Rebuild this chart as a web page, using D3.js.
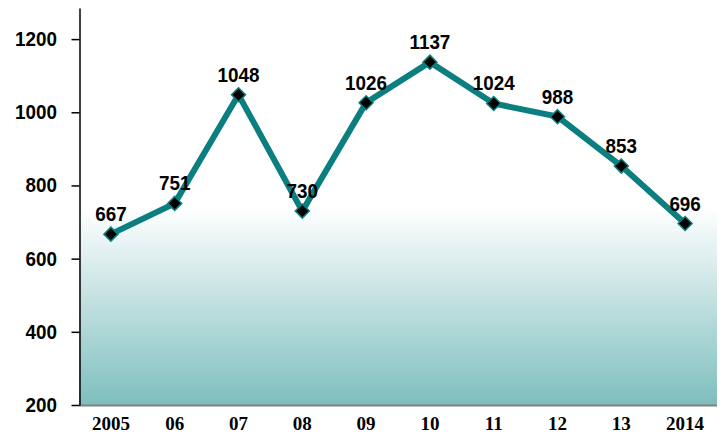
<!DOCTYPE html>
<html>
    <head>
        <title>Yearly line</title>
        <meta charset="UTF-8">
        <script type="text/javascript" src="https://cdn.jsdelivr.net/npm/d3@7"></script>
        <style type="text/css">
            body { margin: 0; background: #fff; }
        </style>
    </head>
    <body>
        <div id="chart"></div>
        <script type="text/javascript">
            var years = ["2005", "06", "07", "08", "09", "10", "11", "12", "13", "2014"];
            var values = [667, 751, 1048, 730, 1026, 1137, 1024, 988, 853, 696];
            var yTicks = [200, 400, 600, 800, 1000, 1200];

            var svgW = 727, svgH = 435;
            var plotL = 79, plotR = 717, plotT = 8, plotB = 405;
            var gradTop = 208;
            var teal = "#0b7f7f";
            var sansFont = "'Liberation Sans', Arial, sans-serif";

            var svg = d3.select("#chart").append("svg")
                    .attr("width", svgW)
                    .attr("height", svgH);

            var x = d3.scaleBand().domain(years).range([plotL, plotR]);
            var y = d3.scaleLinear().domain([200, 1285]).range([plotB, plotT]);

            // gradient background in the lower part of the plot
            var grad = svg.append("defs").append("linearGradient")
                    .attr("id", "bg").attr("x1", 0).attr("y1", 0).attr("x2", 0).attr("y2", 1);
            grad.append("stop").attr("offset", 0).attr("stop-color", "#ffffff");
            grad.append("stop").attr("offset", 1).attr("stop-color", "#7ebebe");

            svg.append("rect")
                    .attr("x", plotL).attr("y", gradTop)
                    .attr("width", plotR - plotL).attr("height", plotB - gradTop)
                    .attr("fill", "url(#bg)");

            // bottom line
            svg.append("line")
                    .attr("x1", plotL).attr("x2", plotR)
                    .attr("y1", plotB + 0.5).attr("y2", plotB + 0.5)
                    .attr("stroke", "#808080").attr("stroke-width", 2);

            // y axis (labels drawn separately so they can be narrowed a bit)
            var yAxis = svg.append("g")
                    .attr("transform", "translate(" + (plotL + 0.5) + ",0)")
                    .call(d3.axisLeft(y).tickValues(yTicks).tickFormat("").tickSize(8).tickSizeOuter(0));
            yAxis.select(".domain").attr("stroke", "#000").attr("stroke-width", 1.5);
            yAxis.selectAll(".tick line").attr("stroke", "#000").attr("stroke-width", 1.5);

            svg.selectAll("text.yl")
                    .data(yTicks)
                    .enter()
                    .append("text")
                    .attr("class", "yl")
                    .attr("transform", function (d) { return "translate(57," + (y(d) + 7) + ") scale(0.92,1)"; })
                    .attr("text-anchor", "end")
                    .style("font-family", sansFont)
                    .style("font-weight", "bold")
                    .style("font-size", "20.5px")
                    .text(function (d) { return d; });

            // x labels
            svg.selectAll("text.xl")
                    .data(years)
                    .enter()
                    .append("text")
                    .attr("class", "xl")
                    .attr("x", function (d) { return x(d) + x.bandwidth() / 2; })
                    .attr("y", 430)
                    .attr("text-anchor", "middle")
                    .style("font-family", "'Liberation Serif', 'Times New Roman', serif")
                    .style("font-weight", "bold")
                    .style("font-size", "19px")
                    .text(function (d) { return d; });

            var pts = years.map(function (d, i) {
                return {x: x(d) + x.bandwidth() / 2, y: y(values[i]), v: values[i]};
            });

            svg.append("path")
                    .datum(pts)
                    .attr("d", d3.line().x(function (d) { return d.x; }).y(function (d) { return d.y; }))
                    .attr("fill", "none")
                    .attr("stroke", teal)
                    .attr("stroke-width", 6)
                    .attr("stroke-linejoin", "miter");

            svg.selectAll("path.mk")
                    .data(pts)
                    .enter()
                    .append("path")
                    .attr("class", "mk")
                    .attr("d", "M0,-7L7,0L0,7L-7,0Z")
                    .attr("transform", function (d) { return "translate(" + d.x + "," + d.y + ")"; })
                    .attr("fill", "#000")
                    .attr("stroke", teal)
                    .attr("stroke-width", 1.5);

            svg.selectAll("text.vl")
                    .data(pts)
                    .enter()
                    .append("text")
                    .attr("class", "vl")
                    .attr("transform", function (d) { return "translate(" + d.x + "," + (d.y - 13) + ") scale(0.92,1)"; })
                    .attr("text-anchor", "middle")
                    .style("font-family", sansFont)
                    .style("font-weight", "bold")
                    .style("font-size", "20.5px")
                    .text(function (d) { return d.v; });
        </script>
    </body>
</html>
